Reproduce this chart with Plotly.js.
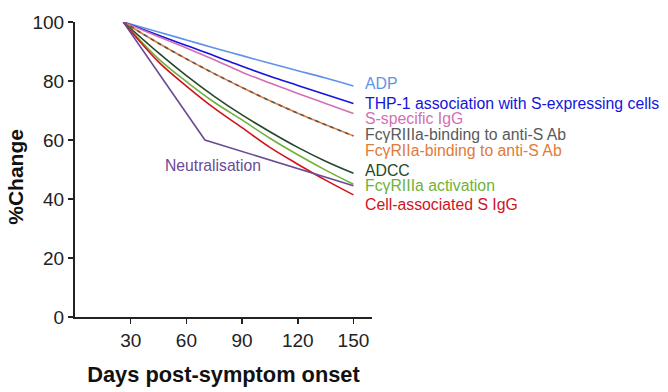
<!DOCTYPE html>
<html>
<head>
<meta charset="utf-8">
<script src="https://cdn.plot.ly/plotly-3.0.1.min.js"></script>
<style>html,body{margin:0;padding:0;background:#fff;}#chart{width:668px;height:392px;}</style>
</head>
<body>
<div id="chart"></div>
<script>
// Days post-symptom onset at which values were read
const days = [26, 45, 60, 75, 90, 105, 120, 135, 150];
const adp      = [100, 96.6, 93.9, 91.2, 88.6, 86.0, 83.5, 81.0, 78.3];
const thp1     = [100, 95.5, 92.0, 88.6, 85.0, 81.6, 78.5, 75.4, 72.4];
const sIgG     = [100, 95.0, 91.2, 87.2, 83.0, 79.3, 75.8, 72.4, 69.0];
const fcr3aBind= [100, 92.8, 87.5, 82.5, 77.8, 73.3, 69.1, 65.2, 61.4];
const fcr2aBind= [100, 92.8, 87.5, 82.5, 77.8, 73.3, 69.1, 65.2, 61.4];
const adcc     = [100, 89.5, 81.8, 74.8, 68.5, 62.8, 57.5, 52.8, 48.7];
const fcr3aAct = [100, 87.5, 79.8, 72.8, 66.8, 60.6, 55.0, 49.8, 45.0];
const cellS    = [100, 86.5, 78.3, 70.8, 64.2, 57.5, 51.8, 46.4, 41.4];
const neutDays = [26, 70, 150];
const neut     = [100, 60, 44.5];

const labels = ["ADP", "THP-1 association with S-expressing cells", "S-specific IgG",
  "FcγRIIIa-binding to anti-S Ab", "FcγRIIa-binding to anti-S Ab", "ADCC",
  "FcγRIIIa activation", "Cell-associated S IgG"];
const labelY = [79.2, 72.4, 67.3, 61.7, 56.6, 49.8, 44.7, 38.0];
const colors = ["#5f93e8", "#1414dc", "#d46fb3", "#5a5a5a", "#e07b39", "#24472a", "#6fb23a", "#d0121e"];
const neutColor = "#6b4a94";

const series = [adp, thp1, sIgG, fcr2aBind, fcr3aBind, adcc, fcr3aAct, cellS];
const lineColors = [colors[0], colors[1], colors[2], colors[4], colors[3], colors[5], colors[6], colors[7]];
const traces = series.map((v, i) => ({
  x: days, y: v, type: 'scatter', mode: 'lines',
  line: {color: lineColors[i], width: 1.6, shape: 'spline', dash: i === 4 ? '4px,4px' : 'solid'},
  hoverinfo: 'skip'
}));
traces.push({x: neutDays, y: neut, type: 'scatter', mode: 'lines',
  line: {color: neutColor, width: 1.6}, hoverinfo: 'skip'});

const FONT = 'Liberation Sans, Arial, sans-serif';
const annotations = labels.map((t, i) => ({
  x: 155, y: labelY[i], xref: 'x', yref: 'y', text: t, showarrow: false,
  xanchor: 'left', yanchor: 'middle', font: {family: FONT, size: 15.8, color: colors[i]}
}));
annotations.push({x: 47.5, y: 51.2, xref: 'x', yref: 'y', text: 'Neutralisation', showarrow: false,
  xanchor: 'left', yanchor: 'middle', font: {family: FONT, size: 15.7, color: neutColor}});
annotations.push({x: -0.199, y: 0.475, xref: 'paper', yref: 'paper', text: '<b>%Change</b>', showarrow: false,
  textangle: -90, xanchor: 'center', yanchor: 'middle', font: {family: FONT, size: 21, color: '#111'}});

const layout = {
  width: 668, height: 392,
  margin: {l: 75, r: 296, t: 22, b: 75},
  paper_bgcolor: '#fff', plot_bgcolor: '#fff',
  showlegend: false,
  font: {family: FONT, color: '#222'},
  xaxis: {
    range: [0, 160], tickvals: [30, 60, 90, 120, 150], ticks: 'outside', ticklen: 5, tickwidth: 1.5,
    tickcolor: '#222', showline: true, linecolor: '#222', linewidth: 2, showgrid: false, zeroline: false,
    tickfont: {size: 19, color: '#222'},
    title: {text: '<b>Days post-symptom onset</b>', font: {size: 21.8, color: '#111'}, standoff: 17}
  },
  yaxis: {
    range: [0, 100], tickvals: [0, 20, 40, 60, 80, 100], ticks: 'outside', ticklen: 5, tickwidth: 1.5,
    tickcolor: '#222', showline: true, linecolor: '#222', linewidth: 2, showgrid: false, zeroline: false,
    tickfont: {size: 19, color: '#222'}
  },
  annotations: annotations
};
Plotly.newPlot('chart', traces, layout, {displayModeBar: false, staticPlot: true});
</script>
</body>
</html>
